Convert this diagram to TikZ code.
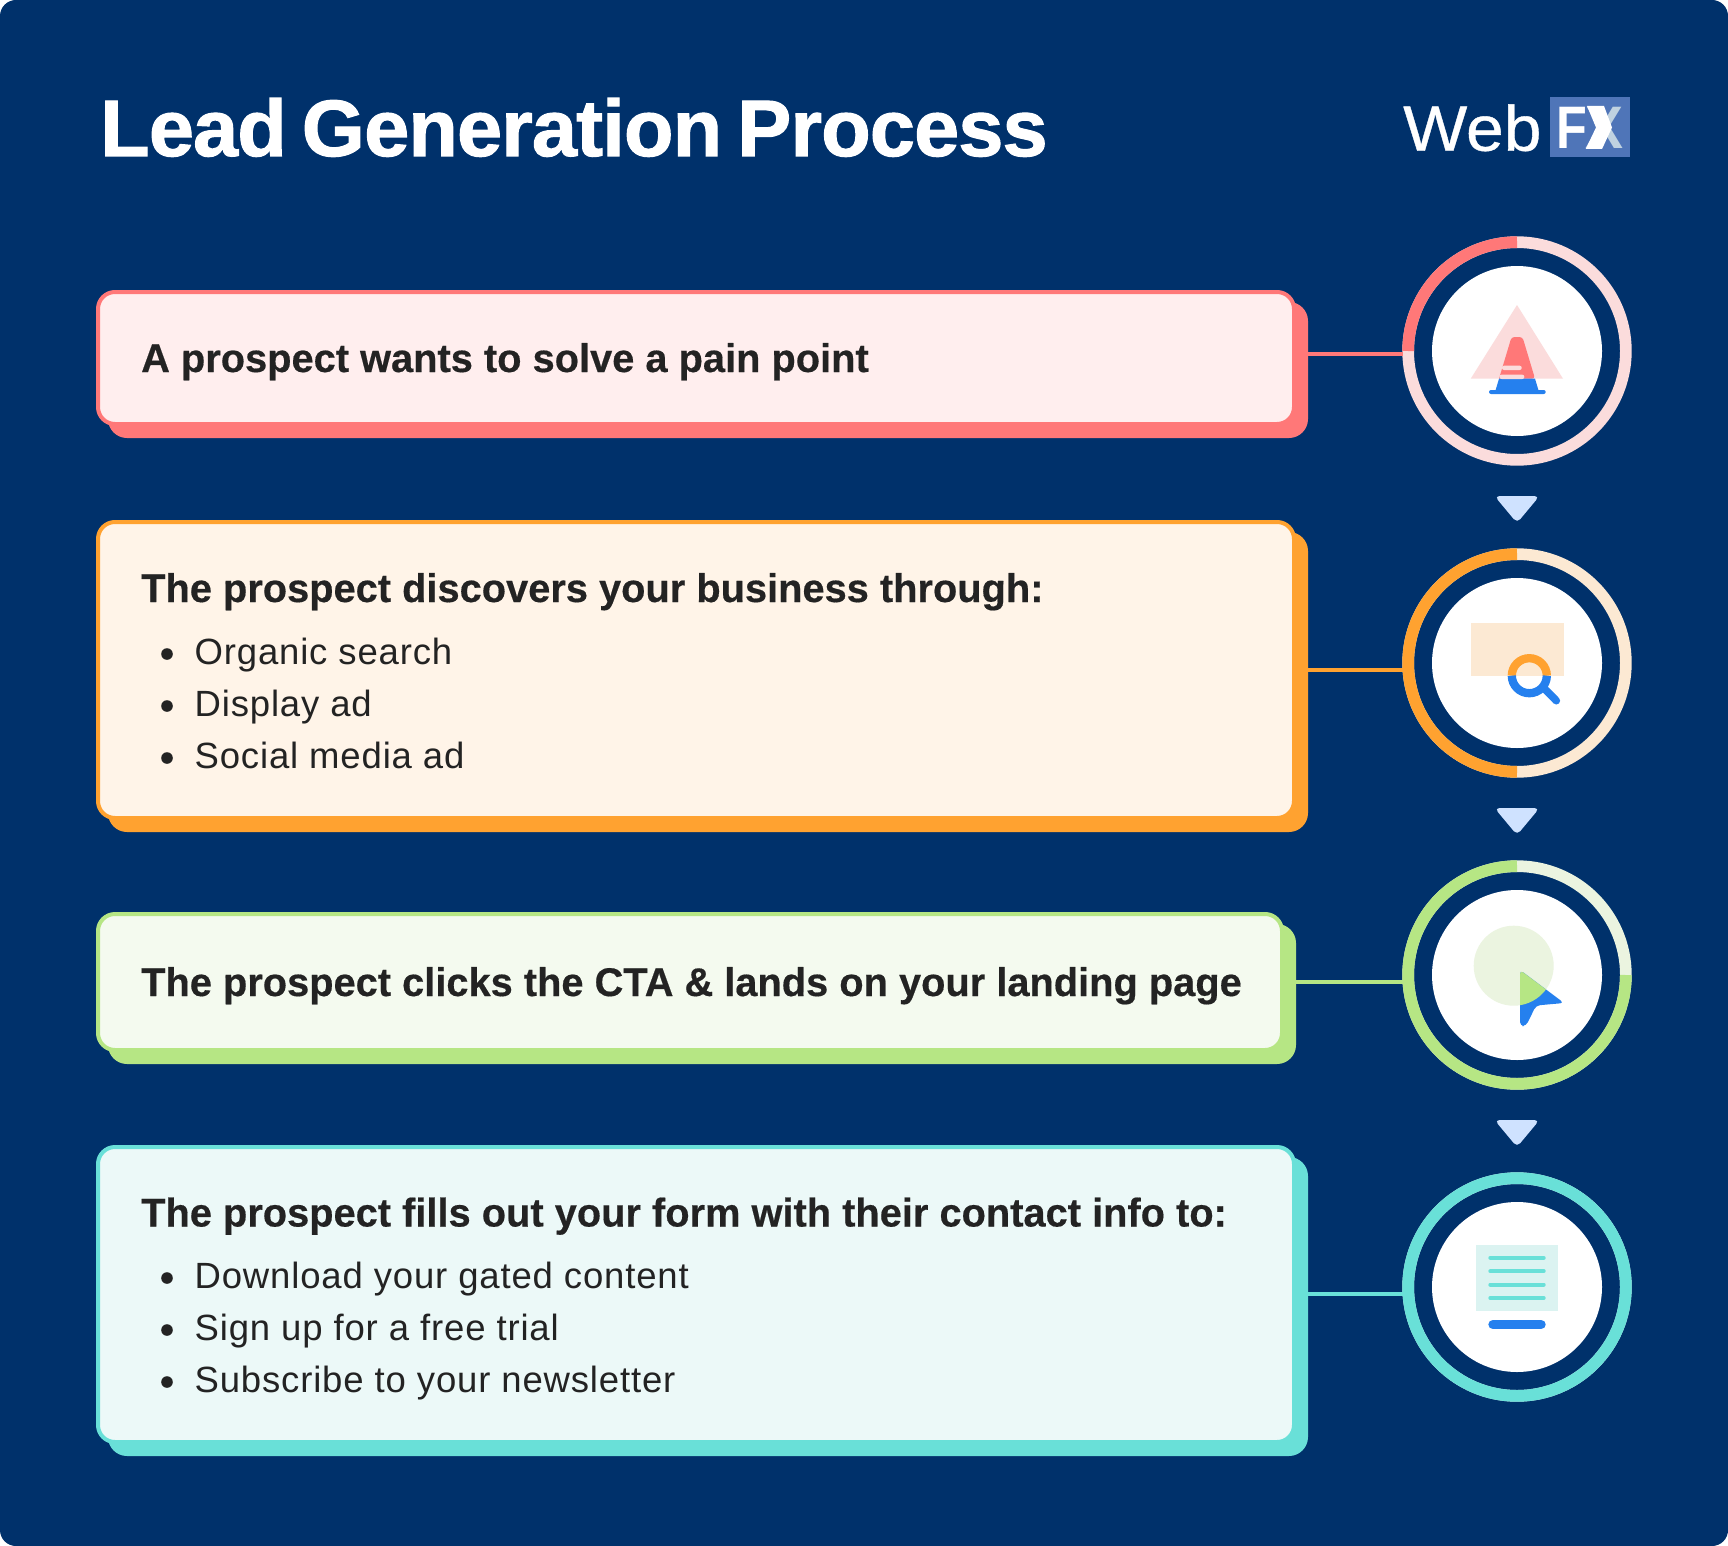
\documentclass[tikz,border=0pt]{standalone}
\usepackage{fontspec}
\setmainfont{Liberation Sans}
\newfontfamily\titlefont[FakeStretch=1.012,FakeBold=1.4,LetterSpace=-1.0,WordSpace=0.7]{Liberation Sans Bold}
\newfontfamily\headfont[FakeStretch=0.995,FakeBold=0.4]{Liberation Sans Bold}
\newfontfamily\itemfont[LetterSpace=2.3]{Liberation Sans}
\newfontfamily\webfont[FakeStretch=1.06,FakeBold=0.6]{Liberation Sans}
\newfontfamily\fxfont[FakeStretch=0.84]{Liberation Sans Bold}
\definecolor{navy}{HTML}{00316B}
\definecolor{ink}{HTML}{232323}
\definecolor{iconblue}{HTML}{2580EE}
\definecolor{arrowblue}{HTML}{CFE2FF}
\definecolor{fxblue}{HTML}{4F75B8}
\definecolor{fxpale}{HTML}{C0D2E0}
\definecolor{clra}{HTML}{FF7878}
\definecolor{palea}{HTML}{FBDCDC}
\definecolor{tinta}{HTML}{FFEEEE}
\definecolor{clrb}{HTML}{FFA230}
\definecolor{paleb}{HTML}{FCE9D3}
\definecolor{tintb}{HTML}{FFF4E8}
\definecolor{clrc}{HTML}{B6E684}
\definecolor{palec}{HTML}{EBF4E0}
\definecolor{tintc}{HTML}{F4FAEF}
\definecolor{clrd}{HTML}{69E0D8}
\definecolor{paled}{HTML}{DBF3F1}
\definecolor{tintd}{HTML}{ECF9F8}
\tikzset{
  stepbox/.style={rectangle,rounded corners=17pt,line width=4pt,outer sep=0pt,inner sep=0pt},
  stepshadow/.style={rectangle,rounded corners=19pt,outer sep=0pt,inner sep=0pt},
  headline/.style={anchor=base west,inner sep=0pt,text=ink,font=\headfont\fontsize{40}{40}\selectfont},
  itemline/.style={anchor=base west,inner sep=0pt,text=ink,font=\itemfont\fontsize{36.5}{37}\selectfont},
  ringnode/.style={circle,line width=11.7pt,minimum size=217.7pt,outer sep=0pt,inner sep=0pt},
  facenode/.style={circle,fill=white,minimum size=170pt,outer sep=0pt,inner sep=0pt}
}
\begin{document}
\begin{tikzpicture}[x=1pt,y=-1pt]
  \useasboundingbox (0,0) rectangle (1728,1546);
  \fill [navy,rounded corners=16pt] (0,0) rectangle (1728,1546);

  \node [anchor=base west,inner sep=0pt,text=white,font=\titlefont\fontsize{80}{80}\selectfont] (title) at (100,156) {Lead Generation Process};

  % logo
  \node [anchor=base west,inner sep=0pt,text=white,font=\webfont\fontsize{64}{64}\selectfont] (web) at (1403,150.7) {Web};
  \node [anchor=north west,fill=fxblue,minimum width=80pt,minimum height=60pt,inner sep=0pt,outer sep=0pt] (fxbox) at (1550,97) {};
  \node [anchor=base west,inner sep=0pt,text=white,font=\fxfont\fontsize{60}{60}\selectfont] (fx) at (1556,149) {F\hspace{-1.2pt}\scalebox{1.13}[1]{\textcolor{fxpale}{X}}};
  \fill [white] (1587,106) -- (1604,106) -- (1612,127.5) -- (1602,149) -- (1585.7,149) -- (1596,127.5) -- cycle;

  % boxes, rings and the lines between them
  \foreach \nm/\t/\b/\r/\cy/\ly/\sa/\ea in {
      a/290/426/1296/351/353.7/180/270,
      b/520/820/1296/663/670/90/270,
      c/912/1052/1284/975/981.7/0/270,
      d/1145/1444/1296/1287/1294/0/360}{
    \pgfmathsetmacro\bw{\r-96}
    \pgfmathsetmacro\bh{\b-\t}
    \node [stepshadow,fill=clr\nm,anchor=north west,minimum width=\bw pt,minimum height=\bh pt] (shade\nm) at (108,\t+12) {};
    \node [stepbox,draw=clr\nm,fill=tint\nm,anchor=north west,minimum width=\bw pt-4pt,minimum height=\bh pt-4pt] (box\nm) at (98,\t+2) {};
    \node [ringnode,draw=pale\nm] (ring\nm) at (1517,\cy) {};
    \draw [clr\nm,line width=11.7pt] (ring\nm.center) ++(\sa:108.85) arc [start angle=\sa,end angle=\ea,radius=108.85];
    \node [facenode] (face\nm) at (1517,\cy) {};
    \coordinate (link\nm) at (shade\nm.east |- 0,\ly);
    \draw [clr\nm,line width=4.4pt] (link\nm) -- ([xshift=-5.6pt]link\nm -| ring\nm.west);
  }

  % texts
  \node [headline] (heada) at (141,372) {A prospect wants to solve a pain point};
  \node [headline] (headb) at (141,602) {The prospect discovers your business through:};
  \node [headline] (headc) at (141,996) {The prospect clicks the CTA \& lands on your landing page};
  \node [headline] (headd) at (141,1226.5) {The prospect fills out your form with their contact info to:};
  \foreach \nm/\y/\lbl in {
      itemba/664/Organic search, itembb/716/Display ad, itembc/768/Social media ad,
      itemda/1288/Download your gated content, itemdb/1340/Sign up for a free trial, itemdc/1392/Subscribe to your newsletter}{
    \node [itemline] (\nm) at (194.5,\y) {\lbl};
    \fill [ink] (167,\y-10) circle (5.8);
  }

  % arrows
  \foreach \y in {496,808,1120}{
    \fill [arrowblue,rounded corners=5pt] (1517,\y) -- (1539.5,\y) -- (1517,\y+27) -- (1494.5,\y) -- cycle;
  }

  % cone
  \fill [palea] (1517,305) -- (1563,378.7) -- (1470.7,378.7) -- cycle;
  \fill [clra,rounded corners=3pt] (1499,378.7) -- (1511.5,337) -- (1522.5,337) -- (1535,378.7) [sharp corners] -- cycle;
  \fill [iconblue] (1499,378.7) -- (1535,378.7) -- (1539,392) -- (1495,392) -- cycle;
  \fill [iconblue,rounded corners=2pt] (1489,390) rectangle (1545.7,394);
  \fill [palea,rounded corners=2pt] (1502,365.7) rectangle (1521.7,370);
  \fill [palea,rounded corners=2pt] (1499.5,374.7) rectangle (1524.3,379);

  % magnifier
  \fill [paleb] (1470.7,623) rectangle (1563.7,675.7);
  \draw [clrb,line width=8.3pt] (1511.8,675.7) arc [start angle=180,end angle=360,radius=17.5];
  \draw [iconblue,line width=8.3pt] (1511.8,675.7) arc [start angle=180,end angle=0,radius=17.5];
  \draw [iconblue,line width=7.6pt,line cap=round] (1545.7,690) -- (1556.3,700.7);

  % cursor
  \fill [palec] (1513.7,965.7) circle (40);
  \fill [iconblue,rounded corners=4pt] (1520,1026) -- (1520,970) -- (1564,1003) -- (1536,1005.5) -- (1526,1026) -- cycle;
  \begin{scope}
    \clip (1513.7,965.7) circle (40);
    \fill [clrc,rounded corners=4pt] (1520,1026) -- (1520,970) -- (1564,1003) -- (1536,1005.5) -- (1526,1026) -- cycle;
  \end{scope}

  % form
  \fill [paled] (1476.3,1244.8) rectangle (1558,1310.8);
  \foreach \y in {1257.8,1271.2,1284.5,1298}{
    \draw [clrd,line width=4pt,line cap=round] (1490.3,\y) -- (1543.7,\y);
  }
  \draw [iconblue,line width=9.4pt,line cap=round] (1493,1324.5) -- (1541,1324.5);
\end{tikzpicture}
\end{document}
